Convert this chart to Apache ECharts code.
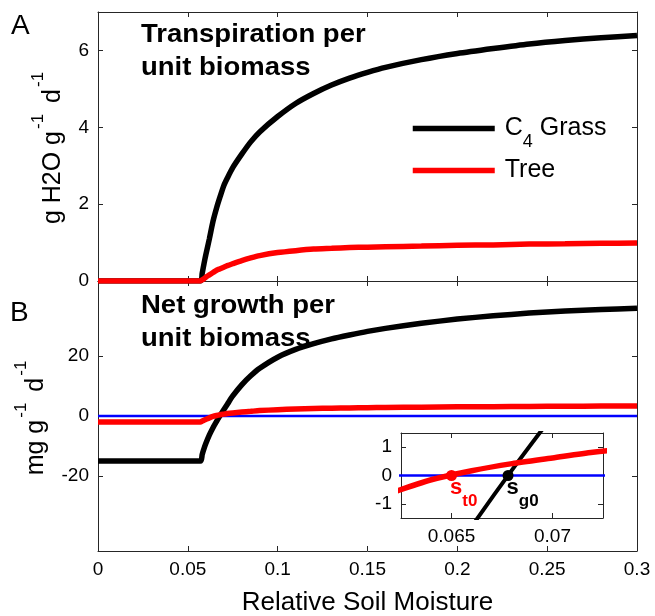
<!DOCTYPE html>
<html>
<head>
<meta charset="utf-8">
<script src="https://cdn.jsdelivr.net/npm/echarts@6/dist/echarts.min.js"></script>
<style>
  html, body { margin: 0; padding: 0; background: #fff; }
  #chart { width: 655px; height: 616px; }
</style>
</head>
<body>
<div id="chart"></div>
<script>
// relative soil moisture (shared x for every curve)
const moisture = [0, 0.057, 0.058, 0.059, 0.06, 0.062, 0.064, 0.066, 0.068, 0.07, 0.072, 0.075,
  0.08, 0.085, 0.09, 0.1, 0.11, 0.12, 0.13, 0.14, 0.15, 0.16, 0.18, 0.2, 0.22, 0.24, 0.26, 0.28, 0.3];

// panel A: transpiration, g H2O g-1 d-1
const grassTranspiration = [0, 0, 0.2, 0.45, 0.68, 1.1, 1.55, 1.9, 2.2, 2.48, 2.68, 2.95,
  3.3, 3.62, 3.88, 4.28, 4.62, 4.88, 5.1, 5.28, 5.43, 5.56, 5.76, 5.92, 6.05, 6.17, 6.26, 6.33, 6.39];
const treeTranspiration = [0, 0, 0.03, 0.06, 0.1, 0.16, 0.22, 0.28, 0.32, 0.36, 0.4, 0.45,
  0.53, 0.6, 0.66, 0.74, 0.79, 0.83, 0.85, 0.87, 0.88, 0.89, 0.91, 0.93, 0.94, 0.96, 0.97, 0.98, 0.99];

// panel B: net growth, mg g-1 d-1
const grassGrowth = [-15, -15, -12.8, -10.9, -9.2, -6.3, -3.9, -1.8, 0.2, 2.1, 3.95, 6.7,
  10.4, 13.4, 15.9, 19.6, 22.2, 24.1, 25.7, 27.0, 28.2, 29.2, 30.9, 32.3, 33.4, 34.3, 35.0, 35.5, 35.9];
const treeGrowth = [-2, -2, -1.7, -1.42, -1.15, -0.62, -0.15, 0.17, 0.42, 0.62, 0.82, 1.02,
  1.3, 1.55, 1.8, 2.1, 2.33, 2.5, 2.6, 2.7, 2.78, 2.85, 2.95, 3.05, 3.12, 3.19, 3.24, 3.3, 3.35];

const zeroLine = [[0, 0], [0.3, 0]];
const treeZero = [0.065, 0];   // s_t0
const grassZero = [0.0678, 0]; // s_g0

// ticks
const xTicks = [0, 0.05, 0.1, 0.15, 0.2, 0.25, 0.3];
const yTicksTop = [0, 2, 4, 6];
const yTicksBottom = [-20, 0, 20];
const insetXTicks = [0.065, 0.07];
const insetYTicks = [-1, 0, 1];

const FONT = '"Liberation Sans", Arial, sans-serif';
const AXIS_COLOR = '#262626';

const pairs = (ys) => moisture.map((x, i) => [x, ys[i]]);
const fmt = (v) => String(+(+v).toFixed(4));

function valueAxis(gridIndex, position, min, max, ticks, labelOn, extra) {
  return Object.assign({
    type: 'value',
    gridIndex,
    position,
    min,
    max,
    axisLine: { show: true, onZero: false, lineStyle: { color: AXIS_COLOR, width: 1 } },
    axisTick: { show: true, inside: true, length: 5, customValues: ticks, lineStyle: { color: AXIS_COLOR, width: 1 } },
    axisLabel: { show: labelOn, customValues: ticks, formatter: fmt, color: '#000', fontSize: 19, fontFamily: FONT, margin: 9 },
    splitLine: { show: false }
  }, extra || {});
}

// each grid owns two x and two y axes; the labelled ones sit at 2 * grid
function curve(name, data, color, width, gridIndex, z) {
  return {
    type: 'line',
    name,
    data,
    xAxisIndex: gridIndex * 2,
    yAxisIndex: gridIndex * 2,
    symbol: 'none',
    smooth: 0.25,
    lineStyle: { color, width },
    itemStyle: { color },
    z: z || 2,
    silent: true
  };
}

function subLabel(color) {
  return {
    s: { fontSize: 22, fontWeight: 'bold', lineHeight: 22, verticalAlign: 'top', fontFamily: FONT, color },
    sub: { fontSize: 17, fontWeight: 'bold', lineHeight: 17, padding: [16, 0, 0, 0], verticalAlign: 'top', fontFamily: FONT, color }
  };
}

const nameRich = {
  m: { fontSize: 25, lineHeight: 25, verticalAlign: 'bottom', fontFamily: FONT, color: '#000' },
  sup: { fontSize: 17, lineHeight: 17, padding: [0, 4, 19, 2], verticalAlign: 'bottom', fontFamily: FONT, color: '#000' }
};

const legendText = {
  fontFamily: FONT,
  color: '#000',
  padding: [0, 0, 0, 5],
  rich: {
    m: { fontSize: 25, lineHeight: 25, verticalAlign: 'top', fontFamily: FONT, color: '#000' },
    sub: { fontSize: 18, lineHeight: 18, padding: [17, 0, 0, 0], verticalAlign: 'top', fontFamily: FONT, color: '#000' }
  }
};

const legendBase = {
  left: 410, padding: 0, itemWidth: 82, selectedMode: false,
  textStyle: legendText,
  lineStyle: { width: 5.5 },
  itemStyle: { color: 'rgba(0,0,0,0)', borderWidth: 0, opacity: 0 }
};

const titleStyle = { fontSize: 25, fontWeight: 'bold', fontFamily: FONT, lineHeight: 33, fill: '#000', verticalAlign: 'top' };

const chart = echarts.init(document.getElementById('chart'));

chart.setOption({
  animation: false,
  backgroundColor: '#fff',
  grid: [
    { left: 98, top: 12, width: 539, height: 269, outerBoundsMode: 'none' },
    { left: 98, top: 281, width: 539, height: 270, outerBoundsMode: 'none' },
    { left: 401, top: 433, width: 202, height: 85, outerBoundsMode: 'none', show: true, backgroundColor: '#fff', borderWidth: 0, z: 4 }
  ],
  xAxis: [
    valueAxis(0, 'bottom', 0, 0.3, xTicks, false),
    valueAxis(0, 'top', 0, 0.3, xTicks, false),
    valueAxis(1, 'bottom', 0, 0.3, xTicks, true, {
      name: 'Relative Soil Moisture',
      nameLocation: 'middle',
      nameGap: 39,
      nameTextStyle: { fontSize: 26, fontFamily: FONT, color: '#000' }
    }),
    valueAxis(1, 'top', 0, 0.3, xTicks, false),
    valueAxis(2, 'bottom', 0.0625, 0.0725, insetXTicks, true, { z: 6 }),
    valueAxis(2, 'top', 0.0625, 0.0725, insetXTicks, false, { z: 6 })
  ],
  yAxis: [
    valueAxis(0, 'left', 0, 7, yTicksTop, true),
    valueAxis(0, 'right', 0, 7, yTicksTop, false),
    valueAxis(1, 'left', -45, 45, yTicksBottom, true),
    valueAxis(1, 'right', -45, 45, yTicksBottom, false),
    valueAxis(2, 'left', -1.5, 1.5, insetYTicks, true, { z: 6 }),
    valueAxis(2, 'right', -1.5, 1.5, insetYTicks, false, { z: 6 })
  ],
  legend: [
    Object.assign({}, legendBase, {
      data: ['C4 Grass'], top: 115, itemHeight: 34,
      formatter: () => '{m|C}{sub|4}{m| Grass}'
    }),
    Object.assign({}, legendBase, {
      data: ['Tree'], top: 158, itemHeight: 26,
      formatter: () => '{m|Tree}'
    })
  ],
  graphic: [
    { type: 'text', x: 11, y: 26, style: { text: 'A', fontSize: 28, fontFamily: FONT, fill: '#000', verticalAlign: 'middle' } },
    { type: 'text', x: 10, y: 313, style: { text: 'B', fontSize: 28, fontFamily: FONT, fill: '#000', verticalAlign: 'middle' } },
    { type: 'text', x: 141, y: 19, scaleX: 1.1, style: Object.assign({ text: 'Transpiration per\nunit biomass' }, titleStyle) },
    { type: 'text', x: 141, y: 290, scaleX: 1.1, style: Object.assign({ text: 'Net growth per\nunit biomass' }, titleStyle) },
    {
      type: 'text', x: 66, y: 146, rotation: Math.PI / 2,
      style: { text: '{m|g H2O g}{sup|-1}{m| d}{sup|-1}', rich: nameRich, align: 'center', verticalAlign: 'bottom' }
    },
    {
      type: 'text', x: 49, y: 416, rotation: Math.PI / 2,
      style: { text: '{m|mg g}{sup|-1}{m| d}{sup|-1}', rich: nameRich, align: 'center', verticalAlign: 'bottom' }
    }
  ],
  series: [
    curve('C4 Grass', pairs(grassTranspiration), '#000', 5.5, 0),
    curve('Tree', pairs(treeTranspiration), '#f00', 5.5, 0),

    curve('zero', zeroLine, '#00f', 2.5, 1),
    curve('C4 Grass', pairs(grassGrowth), '#000', 5.5, 1),
    curve('Tree', pairs(treeGrowth), '#f00', 5.5, 1),

    // inset zoom around the zero crossings
    curve('zero', zeroLine, '#00f', 2.5, 2, 6),
    curve('C4 Grass', pairs(grassGrowth), '#000', 4, 2, 6),
    curve('Tree', pairs(treeGrowth), '#f00', 5.5, 2, 6),
    {
      type: 'scatter', xAxisIndex: 4, yAxisIndex: 4, data: [treeZero], symbolSize: 11, z: 7, silent: true,
      itemStyle: { color: '#f00', opacity: 1 },
      label: { show: true, position: [4, 7], align: 'left', verticalAlign: 'top', formatter: '{s|s}{sub|t0}', rich: subLabel('#f00') }
    },
    {
      type: 'scatter', xAxisIndex: 4, yAxisIndex: 4, data: [grassZero], symbolSize: 11, z: 7, silent: true,
      itemStyle: { color: '#000', opacity: 1 },
      label: { show: true, position: [4, 7], align: 'left', verticalAlign: 'top', formatter: '{s|s}{sub|g0}', rich: subLabel('#000') }
    }
  ]
});
</script>
</body>
</html>
